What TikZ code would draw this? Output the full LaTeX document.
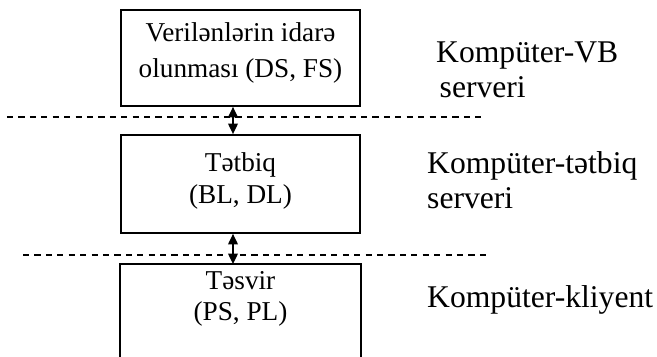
\documentclass[tikz,border=0pt]{standalone}
\usepackage{fontspec}
\setmainfont{Liberation Serif}
\usetikzlibrary{arrows.meta}

\tikzset{
  layer/.style={rectangle,minimum width=4.78cm,inner sep=0pt,line width=1pt},
  boxtext/.style={align=center,font=\fontsize{15.5}{18}\selectfont},
  tiername/.style={anchor=west,align=left,font=\fontsize{18}{20}\selectfont},
  divider/.style={dash pattern=on 3.5pt off 3pt,line width=0.8pt},
  link/.style={{Triangle[length=6pt,width=5.5pt]}-{Triangle[length=6pt,width=5.5pt]},line width=0.9pt}
}

\begin{document}
\begin{tikzpicture}[x=0.02cm,y=-0.02cm]
  \useasboundingbox (0,0) rectangle (657,357);

  % three layers
  \node[layer,draw,minimum height=1.92cm] (Data) at (240.5,58) {};
  \node[boxtext] (DataText) at (240.5,53) {Verilənlərin idarə\\[3pt]olunması (DS, FS)};
  \node[layer,draw,minimum height=1.96cm] (Logic) at (240.5,184) {};
  \node[boxtext] (LogicText) at (240.5,181) {Tətbiq\\(BL, DL)};
  \node[layer,minimum height=1.84cm] (View) at (240.5,311) {};
  \draw[line width=1pt] (View.south west) -- (View.north west) -- (View.north east) -- (View.south east);
  \node[boxtext] (ViewText) at (240.5,299) {Təsvir\\(PS, PL)};

  % links between layers
  \coordinate (ax) at (233,0);
  \draw[link] (Data.south -| ax) -- (Logic.north -| ax);
  \draw[link] (Logic.south -| ax) -- (View.north -| ax);

  % tier borders
  \coordinate (TopLeft) at (7,117);
  \coordinate (TopRight) at (482,117);
  \coordinate (LowLeft) at (23,255);
  \coordinate (LowRight) at (487,255);
  \draw[divider] (TopLeft) -- (TopRight);
  \draw[divider] (LowLeft) -- (LowRight);

  % tier names
  \node[tiername] (DbServer) at (430,70) {Kompüter-VB\\\hspace{2pt}serveri};
  \node[tiername] (AppServer) at (421,180) {Kompüter-tətbiq\\serveri};
  \node[tiername] (Client) at (421,300) {Kompüter-kliyent};
\end{tikzpicture}
\end{document}
